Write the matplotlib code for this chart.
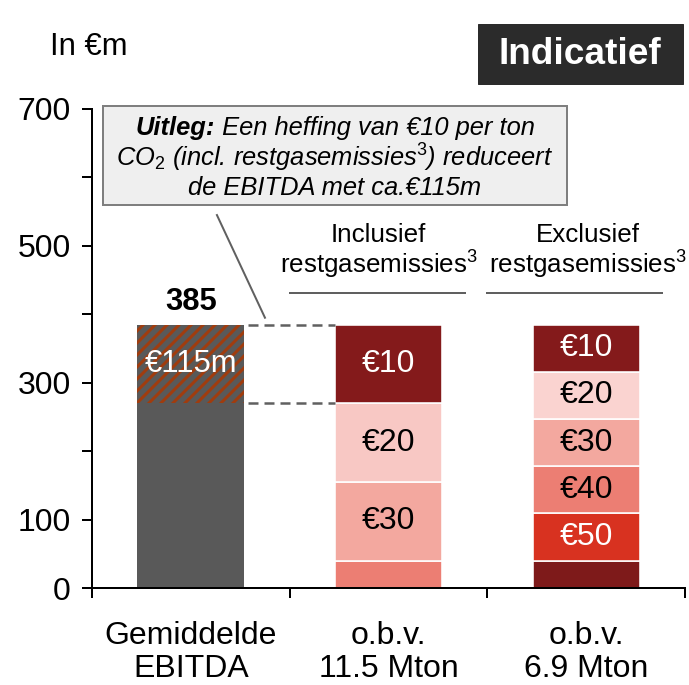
import matplotlib
matplotlib.use("Agg")
import matplotlib.pyplot as plt
from matplotlib.patches import Rectangle
from matplotlib.ticker import FuncFormatter

plt.rcParams["font.family"] = ["Liberation Sans", "DejaVu Sans"]
plt.rcParams["mathtext.fontset"] = "custom"
plt.rcParams["mathtext.rm"] = "Liberation Sans"
plt.rcParams["mathtext.it"] = "Liberation Sans:italic"
plt.rcParams["mathtext.default"] = "it"
plt.rcParams["hatch.linewidth"] = 3.0

# --- data (EUR m) ---
categories = ["Gemiddelde\nEBITDA", "o.b.v.\n11.5 Mton", "o.b.v.\n6.9 Mton"]
ebitda = 385
levy_impact = 115
incl_segments = [40, 115, 115, 115]
incl_labels = ["", "€30", "€20", "€10"]
excl_segments = [40, 69, 69, 69, 69, 69]
excl_labels = ["", "€50", "€40", "€30", "€20", "€10"]
shown_yticks = [0, 100, 300, 500, 700]

# --- styling ---
GREY = "#595959"
HATCH = "#A03C0E"
incl_colors = ["#EC7E73", "#F3A89F", "#F8C8C4", "#841A1B"]
incl_text = ["white", "black", "black", "white"]
excl_colors = ["#7E1A1A", "#D83220", "#EC7E73", "#F3A89F", "#FAD3D0", "#841A1B"]
excl_text = ["white", "white", "black", "black", "black", "white"]
BAR_W = 0.54

W, H, DPI = 689, 685, 72
fig = plt.figure(figsize=(W / DPI, H / DPI), dpi=DPI)
ax = fig.add_axes([92 / W, 1 - 588 / H, (685 - 92) / W, (588 - 109) / H])
ax.set_xlim(-0.5, 2.5)
ax.set_ylim(0, 700)

# average EBITDA, top part hatched = impact of a EUR 10 levy
base = ebitda - levy_impact
ax.bar(0, base, width=BAR_W, color=GREY, linewidth=0)
ax.bar(0, levy_impact, bottom=base, width=BAR_W, facecolor=GREY,
       edgecolor=HATCH, hatch="//", linewidth=0)
ax.text(0, base + levy_impact / 2, f"€{levy_impact}m", color="white",
        ha="center", va="center", fontsize=31)
ax.text(0, ebitda + 33, str(ebitda), ha="center", va="center",
        fontsize=31, fontweight="bold")


def stacked(x, values, labels, colors, text_colors):
    bottom = 0
    for v, lab, c, tc in zip(values, labels, colors, text_colors):
        ax.bar(x, v, bottom=bottom, width=BAR_W, color=c,
               edgecolor="white", linewidth=1.6)
        if lab:
            ax.text(x, bottom + v / 2, lab, color=tc, ha="center",
                    va="center", fontsize=32)
        bottom += v


stacked(1, incl_segments, incl_labels, incl_colors, incl_text)
stacked(2, excl_segments, excl_labels, excl_colors, excl_text)

# dashed bridge from EBITDA levy slice to the first bar
for y in (ebitda, base):
    ax.plot([0.29, 0.73], [y, y], color="#606060", lw=2.5,
            ls=(0, (4, 2.4)), clip_on=False)

# group headers
headers = [(0.95, "Inclusief", (0.5, 1.387)), (2.01, "Exclusief", (1.498, 2.383))]
for xc, word, (x0, x1) in headers:
    ax.text(xc, 516, word, ha="center", va="center", fontsize=26)
    ax.text(xc, 472, r"restgasemissies$^\mathrm{3}$", ha="center",
            va="center", fontsize=26)
    ax.plot([x0, x1], [431, 431], color="#606060", lw=2, clip_on=False)

# explanation callout
CX = 0.729
ax.add_patch(Rectangle((-0.444, 560), 2.347, 145, facecolor="#EFEFEF",
                       edgecolor="#7F7F7F", lw=2, clip_on=False, zorder=3))
txt_kw = dict(va="center", fontsize=25.5, fontstyle="italic", zorder=4)
lead = ax.text(CX, 672, "Uitleg:", ha="right", fontweight="bold", **txt_kw)
rest = ax.text(CX, 672, " Een heffing van €10 per ton", ha="left", **txt_kw)
renderer = fig.canvas.get_renderer()
to_data = ax.transData.inverted()
w_lead = lead.get_window_extent(renderer).width
w_rest = rest.get_window_extent(renderer).width
px_c = ax.transData.transform((CX, 0))[0]
split = to_data.transform((px_c - (w_lead + w_rest) / 2 + w_lead, 0))[0]
lead.set_x(split)
rest.set_x(split)
ax.text(CX, 629, r"CO$_2$ (incl. restgasemissies$^3$) reduceert",
        ha="center", **txt_kw)
ax.text(CX, 585, "de EBITDA met ca.€115m", ha="center", **txt_kw)
ax.plot([0.132, 0.375], [545, 395], color="#606060", lw=2, clip_on=False)

# axes
for side in ("top", "right"):
    ax.spines[side].set_visible(False)
for side in ("left", "bottom"):
    ax.spines[side].set_linewidth(2)

ax.set_yticks(range(0, 701, 100))
ax.yaxis.set_major_formatter(
    FuncFormatter(lambda v, _: f"{v:.0f}" if int(v) in shown_yticks else ""))
ax.tick_params(axis="y", length=10, width=2, pad=11, labelsize=32)

ax.set_xticks([-0.5, 0.5, 1.5, 2.5])
ax.set_xticks([0, 1, 2], categories, minor=True)
ax.tick_params(axis="x", which="major", length=10, width=2, labelbottom=False)
ax.tick_params(axis="x", which="minor", length=0, pad=33, labelsize=32)
for t in ax.get_xticklabels(minor=True):
    t.set_linespacing(1.12)

fig.text(50 / W, 1 - 47 / H, "In €m", fontsize=31, ha="left", va="center")
fig.patches.append(Rectangle((478 / W, 1 - 84 / H), 205 / W, 60 / H,
                             transform=fig.transFigure, color="#2B2B2B"))
fig.text(580 / W, 1 - 54 / H, "Indicatief", color="white", fontsize=37,
         fontweight="bold", ha="center", va="center")

fig.savefig("out.png", dpi=DPI)
